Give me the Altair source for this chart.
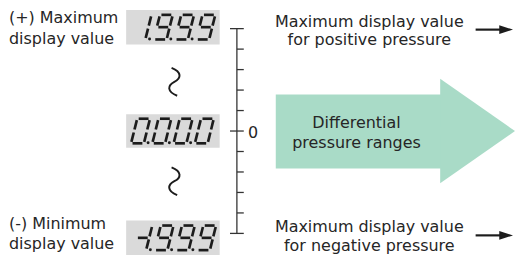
import altair as alt
import pandas as pd

# ---------------- data ----------------
left_labels = ["(+) Maximum", "display value", "(-) Minimum", "display value"]
left_label_y = [20, 42, 230, 250]
right_labels = ["Maximum display value", "for positive pressure",
                "Maximum display value", "for negative pressure"]
right_label_y = [24, 43, 233, 252]
arrow_labels = ["Differential", "pressure ranges"]
arrow_label_y = [127, 147]
displays = ["1.9.9.9", "0.0.0.0", "-1.9.9.9"]
scale_ticks = list(range(-5, 6))
zero_label = "0"

# ---------------- layout ----------------
W, H = 507, 244
xs = alt.Scale(domain=[8, 515], nice=False, zero=False)
ys = alt.Scale(domain=[8, 252], nice=False, zero=False, reverse=True)
INK = "#262626"
FONT = "DejaVu Sans"
FS = 16.2


def X(f):
    return alt.X(f + ":Q", scale=xs, axis=None)


def Y(f):
    return alt.Y(f + ":Q", scale=ys, axis=None)


# display boxes
box_x = [128, 223]
box_y = [(7, 42), (113, 147), (221, 256)]
boxes = pd.DataFrame([{"x": box_x[0], "x2": box_x[1], "y": a, "y2": b} for a, b in box_y])

# seven segment digits
DW, DH, SL, GAP = 13.0, 25.0, 0.25, 1.5
SEG = {
    "a": (0, DH, DW, DH), "b": (DW, DH / 2, DW, DH), "c": (DW, 0, DW, DH / 2),
    "d": (0, 0, DW, 0), "e": (0, 0, 0, DH / 2), "f": (0, DH / 2, 0, DH),
    "g": (0, DH / 2, DW, DH / 2),
}
DIG = {"0": "abcdef", "9": "abcdfg", "1": "bc", "-1": "bcg"}
start_x = [134.5, 133.0, 135.3]
pitch = 21.6
segs, dots = [], []
for di, s in enumerate(displays):
    ybot = (box_y[di][0] + box_y[di][1]) / 2 + DH / 2
    cells = []
    i = 0
    while i < len(s):
        if s[i] == "-":
            tok = s[i:i + 2]
            i += 2
        else:
            tok = s[i]
            i += 1
        dot = i < len(s) and s[i] == "."
        if dot:
            i += 1
        cells.append((tok, dot))
    for ci, (tok, dot) in enumerate(cells):
        x0 = start_x[di] + ci * pitch
        for sg in DIG[tok]:
            u1, v1, u2, v2 = SEG[sg]
            L = ((u2 - u1) ** 2 + (v2 - v1) ** 2) ** 0.5
            du, dv = (u2 - u1) / L * GAP, (v2 - v1) / L * GAP
            u1, v1, u2, v2 = u1 + du, v1 + dv, u2 - du, v2 - dv
            segs.append({"x": x0 + u1 + v1 * SL, "y": ybot - v1,
                         "x2": x0 + u2 + v2 * SL, "y2": ybot - v2})
        if dot:
            dots.append({"x": x0 + DW + 4.3, "y": ybot - 0.5})
segs = pd.DataFrame(segs)
dots = pd.DataFrame(dots)

# scale
SX, SY0, STEP = 240.5, 130, 20.8
ticks = []
for t in scale_ticks:
    y = SY0 - t * STEP
    major = t in (-5, 0, 5)
    ticks.append({"x": SX - 7 if major else SX, "x2": SX + 7, "y": y, "y2": y})
ticks.append({"x": SX, "x2": SX, "y": SY0 - 5 * STEP, "y2": SY0 + 5 * STEP})
ticks = pd.DataFrame(ticks)

# big arrow
body = pd.DataFrame([{"x": 280, "x2": 448, "y": 93, "y2": 168}])
heads = pd.DataFrame([
    {"g": "big", "x": 447, "y": 77, "y2": 183},
    {"g": "big", "x": 523, "y": 130, "y2": 130},
])
small_y = [27, 236]
shafts = pd.DataFrame([{"x": 483, "x2": 510, "y": y, "y2": y} for y in small_y])
small_heads = pd.DataFrame(
    [{"g": f"s{k}", "x": 507, "y": y - 4.5, "y2": y + 4.5} for k, y in enumerate(small_y)] +
    [{"g": f"s{k}", "x": 521, "y": y, "y2": y} for k, y in enumerate(small_y)]
)

wig = pd.DataFrame([{"x": 177, "y": 80}, {"x": 177, "y": 181}])
WIGGLE = "M -0.2 -1 C 0.55 -0.7 0.5 -0.25 0 0 C -0.5 0.25 -0.55 0.7 0.2 1"

left_df = pd.DataFrame({"t": left_labels, "x": 9, "y": left_label_y})
right_df = pd.DataFrame({"t": right_labels, "x": 375, "y": right_label_y})
arrow_df = pd.DataFrame({"t": arrow_labels, "x": 362, "y": arrow_label_y})
zero_df = pd.DataFrame({"t": [zero_label], "x": [257], "y": [137.5]})

layers = [
    alt.Chart(boxes).mark_rect(color="#dadada").encode(x=X("x"), x2="x2", y=Y("y"), y2="y2"),
    alt.Chart(segs).mark_rule(color="#1c1c1c", strokeWidth=2.7, strokeCap="butt").encode(
        x=X("x"), y=Y("y"), x2="x2", y2="y2"),
    alt.Chart(dots).mark_circle(color="#1c1c1c", size=9, opacity=1).encode(x=X("x"), y=Y("y")),
    alt.Chart(ticks).mark_rule(color="#333333", strokeWidth=1.3).encode(
        x=X("x"), x2="x2", y=Y("y"), y2="y2"),
    alt.Chart(body).mark_rect(color="#a9dbc7").encode(x=X("x"), x2="x2", y=Y("y"), y2="y2"),
    alt.Chart(heads).mark_area(color="#a9dbc7", opacity=1).encode(
        x=X("x"), y=Y("y"), y2="y2", detail="g:N"),
    alt.Chart(shafts).mark_rule(color="#1c1c1c", strokeWidth=2.2).encode(
        x=X("x"), x2="x2", y=Y("y"), y2="y2"),
    alt.Chart(small_heads).mark_area(color="#1c1c1c", opacity=1).encode(
        x=X("x"), y=Y("y"), y2="y2", detail="g:N"),
    alt.Chart(wig).mark_point(shape=WIGGLE, filled=False, size=800, color="#1c1c1c",
                              strokeWidth=2, opacity=1).encode(x=X("x"), y=Y("y")),
    alt.Chart(left_df).mark_text(align="left", baseline="alphabetic", font=FONT, fontSize=FS,
                                 color=INK).encode(x=X("x"), y=Y("y"), text="t:N"),
    alt.Chart(right_df).mark_text(align="center", baseline="alphabetic", font=FONT, fontSize=FS,
                                  color=INK).encode(x=X("x"), y=Y("y"), text="t:N"),
    alt.Chart(arrow_df).mark_text(align="center", baseline="alphabetic", font=FONT, fontSize=FS,
                                  color=INK).encode(x=X("x"), y=Y("y"), text="t:N"),
    alt.Chart(zero_df).mark_text(align="center", baseline="alphabetic", font=FONT, fontSize=FS,
                                 color=INK).encode(x=X("x"), y=Y("y"), text="t:N"),
]

chart = alt.layer(*layers).properties(width=W, height=H, padding=0).configure_view(stroke=None)
chart.save("out.html", embed_options={"renderer": "svg", "actions": False})
